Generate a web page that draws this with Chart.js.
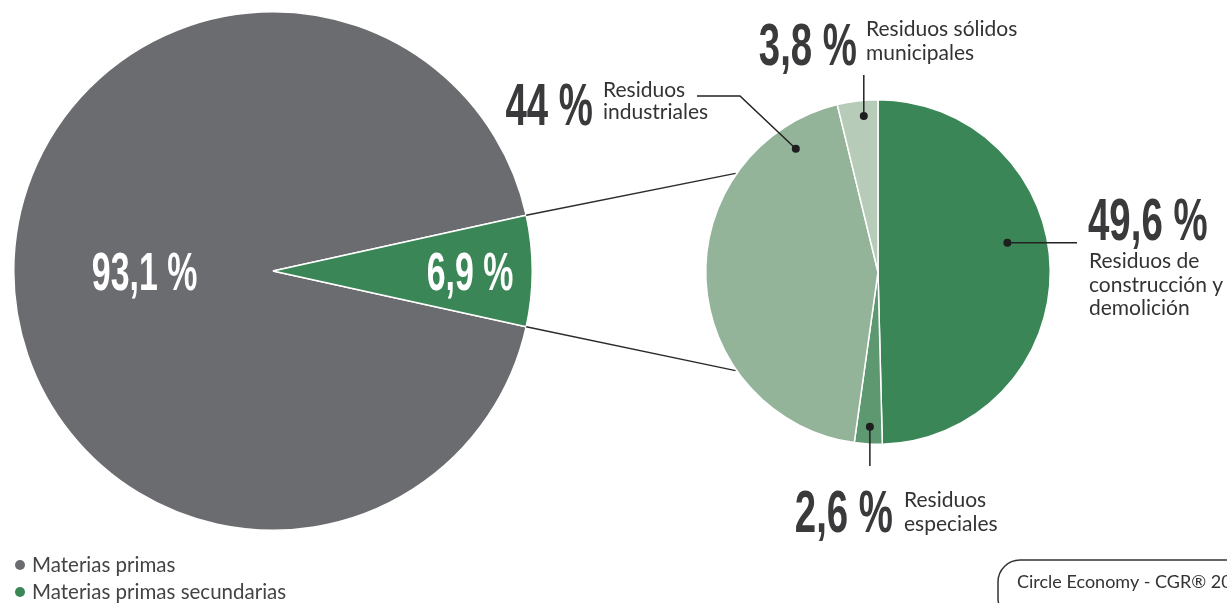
<!DOCTYPE html>
<html>
<head>
<meta charset="utf-8">
<script src="https://cdn.jsdelivr.net/npm/chart.js@4"></script>
<style>
  html, body { margin: 0; padding: 0; background: #fff; overflow: hidden; }
  #wrap { position: relative; width: 1227px; height: 603px; }
  #wrap canvas { position: absolute; left: 0; top: 0; }
</style>
</head>
<body>
<div id="wrap">
  <canvas id="mainPie" width="1227" height="603"></canvas>
  <canvas id="subPie" width="1227" height="603"></canvas>
</div>
<script>
/* ── data ─────────────────────────────────── */
const primaryLabels   = ['Materias primas', 'Materias primas secundarias'];
const primaryValues   = [93.1, 6.9];
const primaryColors   = ['#6b6c6f', '#3b8656'];

const secondaryLabels = [
  ['Residuos de', 'construcción y', 'demolición'],
  ['Residuos', 'especiales'],
  ['Residuos', 'industriales'],
  ['Residuos sólidos', 'municipales'],
];
const secondaryValues = [49.6, 2.6, 44, 3.8];
const secondaryColors = ['#3b8656', '#5e9870', '#94b49a', '#b6cbb8'];

const sourceText = 'Circle Economy - CGR® 2021';

/* ── helpers ──────────────────────────────── */
const fmtPct = v => String(v).replace('.', ',') + ' %';
const DARK   = '#3a3a3c';
const deg    = d => d * Math.PI / 180;

// condensed bold number (Oswald-like)
function bigText(ctx, str, x, y, align, color, size) {
  const sx = 0.64;
  ctx.save();
  ctx.font = `bold ${size}px "Liberation Sans", Arial, sans-serif`;
  ctx.textAlign = 'left';
  ctx.textBaseline = 'alphabetic';
  const w = ctx.measureText(str).width * sx;
  let x0 = x;
  if (align === 'right')  x0 = x - w;
  if (align === 'center') x0 = x - w / 2;
  ctx.translate(x0, y);
  ctx.scale(sx, 1);
  ctx.fillStyle = color;
  ctx.fillText(str, 0, 0);
  ctx.restore();
}

function smallLines(ctx, lines, x, y, lh) {
  ctx.save();
  ctx.font = '21px Lato, "Open Sans", sans-serif';
  ctx.fillStyle = '#333';
  ctx.textAlign = 'left';
  ctx.textBaseline = 'alphabetic';
  lines.forEach((l, i) => ctx.fillText(l, x, y + i * lh));
  ctx.restore();
}

function arcPoint(arc, angleDeg, frac) {
  // angleDeg: clockwise from 12 o'clock
  const a = deg(angleDeg - 90);
  return { x: arc.x + Math.cos(a) * arc.outerRadius * frac, y: arc.y + Math.sin(a) * arc.outerRadius * frac };
}

/* ── annotations for sub pie (layout only) ── */
const subNotes = [
  { ang: 77.3,  frac: 0.77, path: [[1077, null]],  big: [1088, 240, 'left'],  text: [1089, 268, 23.5] },
  { ang: 183.0, frac: 0.90, path: [[null, 466]],   big: [893, 532, 'right'],  text: [904, 507, 24] },
  { ang: 326.3, frac: 0.86, path: [[740, 96], [697, 96]], big: [593, 125, 'right'], text: [603, 97, 22] },
  { ang: 354.8, frac: 0.91, path: [[null, 75]],    big: [857, 65, 'right'],   text: [866, 36, 24] },
];

/* ── main pie ─────────────────────────────── */
const mainLabelPlugin = {
  id: 'mainLabels',
  afterDatasetsDraw(chart) {
    const ctx  = chart.ctx;
    const meta = chart.getDatasetMeta(0);
    const fr   = [0.495, 0.76];
    meta.data.forEach((arc, i) => {
      const mid = (arc.startAngle + arc.endAngle) / 2;
      const cx  = arc.x + Math.cos(mid) * arc.outerRadius * fr[i];
      const cy  = arc.y + Math.sin(mid) * arc.outerRadius * fr[i];
      bigText(ctx, fmtPct(primaryValues[i]), cx, cy + 19, 'center', '#fff', 53);
    });

    // legend
    ctx.save();
    ctx.font = '20.5px Lato, "Open Sans", sans-serif';
    ctx.textBaseline = 'middle';
    primaryLabels.forEach((l, i) => {
      const y = 565 + i * 27;
      ctx.fillStyle = primaryColors[i];
      ctx.beginPath(); ctx.arc(20, y, 5, 0, Math.PI * 2); ctx.fill();
      ctx.fillStyle = '#444';
      ctx.fillText(l, 32, y);
    });
    ctx.restore();
  },
};

const mainChart = new Chart(document.getElementById('mainPie'), {
  type: 'pie',
  data: {
    labels: primaryLabels,
    datasets: [{
      data: primaryValues,
      backgroundColor: primaryColors,
      borderColor: '#fff',
      borderWidth: 1.5,
    }],
  },
  options: {
    responsive: false,
    animation: false,
    events: [],
    rotation: 90 + primaryValues[1] * 3.6 / 2,
    layout: { padding: { left: 13, top: 11, right: 694, bottom: 72 } },
    plugins: { legend: { display: false }, tooltip: { enabled: false } },
  },
  plugins: [mainLabelPlugin],
});

/* ── sub pie ──────────────────────────────── */
const subLabelPlugin = {
  id: 'subLabels',
  afterDatasetsDraw(chart) {
    const ctx  = chart.ctx;
    const meta = chart.getDatasetMeta(0);
    const arc0 = meta.data[0];

    // connectors from the green wedge of the main pie
    const green = mainChart.getDatasetMeta(0).data[1];
    const ends  = [deg(214.7), deg(145.3)];
    const starts = [green.startAngle, green.endAngle];
    ctx.save();
    ctx.strokeStyle = '#2b2b2b';
    ctx.lineWidth = 1.5;
    starts.forEach((a, i) => {
      ctx.beginPath();
      ctx.moveTo(green.x + Math.cos(a) * green.outerRadius, green.y + Math.sin(a) * green.outerRadius);
      ctx.lineTo(arc0.x + Math.cos(ends[i]) * (arc0.outerRadius + 1), arc0.y + Math.sin(ends[i]) * (arc0.outerRadius + 1));
      ctx.stroke();
    });

    // leaders, dots and labels
    subNotes.forEach((n, i) => {
      const p = arcPoint(arc0, n.ang, n.frac);
      ctx.strokeStyle = '#222';
      ctx.lineWidth = 1.5;
      ctx.beginPath();
      ctx.moveTo(p.x, p.y);
      n.path.forEach(([x, y]) => ctx.lineTo(x == null ? p.x : x, y == null ? p.y : y));
      ctx.stroke();
      ctx.fillStyle = '#1e1e1e';
      ctx.beginPath(); ctx.arc(p.x, p.y, 4, 0, Math.PI * 2); ctx.fill();

      bigText(ctx, fmtPct(secondaryValues[i]), n.big[0], n.big[1], n.big[2], DARK, 60);
      smallLines(ctx, secondaryLabels[i], n.text[0], n.text[1], n.text[2]);
    });

    // source box
    ctx.strokeStyle = '#333';
    ctx.lineWidth = 1.5;
    ctx.beginPath();
    ctx.roundRect(998, 560, 280, 60, 22);
    ctx.stroke();
    ctx.font = '18px Lato, "Open Sans", sans-serif';
    ctx.fillStyle = '#333';
    ctx.textBaseline = 'middle';
    ctx.fillText(sourceText, 1017, 582);
    ctx.restore();
  },
};

new Chart(document.getElementById('subPie'), {
  type: 'pie',
  data: {
    labels: secondaryLabels.map(l => l.join(' ')),
    datasets: [{
      data: secondaryValues,
      backgroundColor: secondaryColors,
      borderColor: '#fff',
      borderWidth: 1.5,
    }],
  },
  options: {
    responsive: false,
    animation: false,
    events: [],
    rotation: 0,
    layout: { padding: { left: 705, top: 99, right: 176, bottom: 158 } },
    plugins: { legend: { display: false }, tooltip: { enabled: false } },
  },
  plugins: [subLabelPlugin],
});
</script>
</body>
</html>
